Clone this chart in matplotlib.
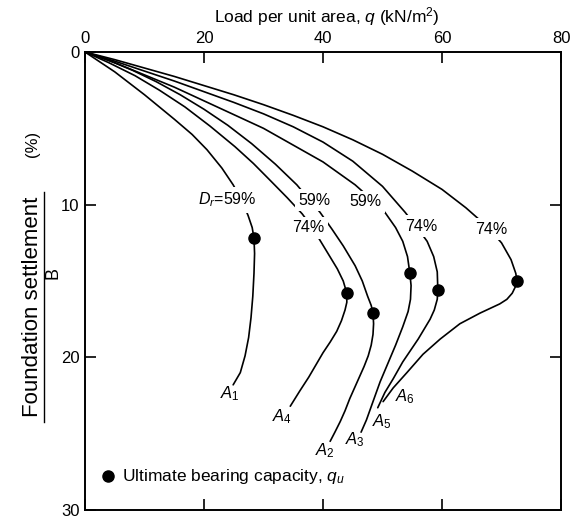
import numpy as np
import matplotlib.pyplot as plt
from matplotlib.lines import Line2D

plt.rcParams['font.family'] = ['Liberation Sans', 'DejaVu Sans']
plt.rcParams['mathtext.fontset'] = 'custom'
plt.rcParams['mathtext.rm'] = 'Liberation Sans'
plt.rcParams['mathtext.it'] = 'Liberation Sans:italic'

# load q (kN/m^2) vs settlement/B (%) for each test
q_a1 = [0, 5, 10, 15, 18, 20.5, 23, 24.9, 26.3, 27.4, 28.1, 28.4, 28.5, 28.4, 28.2, 27.9, 27.5, 26.9, 26.1, 24.9]
s_a1 = [0, 1.3, 2.8, 4.4, 5.4, 6.4, 7.6, 8.7, 9.7, 10.7, 11.5, 12.2, 13.2, 14.5, 16.0, 17.4, 18.7, 19.9, 21.0, 21.8]

q_a4 = [0, 4, 8.4, 12.5, 16.8, 21, 25.2, 28.3, 31.1, 34, 36.5, 38.2, 39.6, 41, 42.4, 43.4, 44.0,
        44.0, 43.7, 43.1, 42.3, 41.2, 40.0, 38.8, 37.6, 36.1, 34.5]
s_a4 = [0, 0.7, 1.55, 2.5, 3.6, 4.85, 6.2, 7.3, 8.4, 9.55, 10.6, 11.5, 12.4, 13.3, 14.2, 15.0, 15.8,
        16.4, 16.9, 17.6, 18.3, 19.0, 19.7, 20.5, 21.3, 22.2, 23.2]

q_a2 = [0, 4, 8, 12, 16, 20, 24, 28, 32, 35.6, 39.5, 41.5, 43.4, 45.4, 46.6, 47.5, 48.1, 48.4,
        48.5, 48.4, 48.1, 47.6, 46.9, 46.1, 45.3, 44.5, 43.7, 42.9, 42.0, 41.2]
s_a2 = [0, 0.55, 1.2, 1.95, 2.8, 3.75, 4.8, 6.0, 7.35, 8.7, 10.5, 11.6, 12.7, 14.0, 15.0, 16.0, 16.6, 17.1,
        17.8, 18.5, 19.2, 19.9, 20.6, 21.3, 22.0, 22.7, 23.5, 24.2, 24.9, 25.5]

q_a3 = [0, 5, 10, 15, 20, 25, 30, 35, 40, 45.4, 48, 50.4, 52.2, 53.4, 54.2, 54.6,
        54.8, 54.7, 54.3, 53.4, 52.2, 50.9, 49.6, 48.4, 47.3, 46.4]
s_a3 = [0, 0.7, 1.5, 2.3, 3.2, 4.1, 5.0, 6.1, 7.2, 8.7, 9.6, 10.5, 11.5, 12.4, 13.4, 14.5,
        15.3, 16.2, 17.0, 18.0, 19.2, 20.4, 21.6, 22.9, 24.1, 24.9]

q_a5 = [0, 5, 10, 15, 20, 25, 30, 35, 40, 45, 50, 53.8, 56, 57.5, 58.6, 59.2, 59.3,
        59.2, 58.7, 58.0, 56.0, 53.4, 51.8, 50.4, 49.2]
s_a5 = [0, 0.6, 1.25, 1.9, 2.6, 3.3, 4.05, 4.9, 5.9, 7.15, 8.8, 10.5, 11.6, 12.4, 13.4, 14.4, 15.6,
        16.2, 16.9, 17.5, 18.8, 20.3, 21.4, 22.3, 23.3]

q_a6 = [0, 5, 10, 15, 20, 25, 30, 35, 40, 45, 50, 55, 60, 64, 67.5, 70, 71.6, 72.4, 72.6,
        72.3, 71.8, 70.9, 69.7, 66.4, 63.0, 59.7, 56.8, 54.1, 51.8, 50.1]
s_a6 = [0, 0.5, 1.05, 1.6, 2.2, 2.8, 3.45, 4.15, 4.9, 5.75, 6.7, 7.8, 9.0, 10.2, 11.4, 12.5, 13.6, 14.5, 15.0,
        15.4, 15.8, 16.2, 16.5, 17.1, 17.8, 18.8, 19.8, 21.0, 22.0, 22.9]

# ultimate bearing capacity points (A1, A4, A2, A3, A5, A6)
qu_q = [28.4, 44.0, 48.4, 54.6, 59.3, 72.6]
qu_s = [12.2, 15.8, 17.1, 14.5, 15.6, 15.0]

# relative density labels sitting on the curves
dr_text = ['$D_r$=59%', '59%', '74%', '59%', '74%', '74%']
dr_q = [23.9, 38.5, 37.5, 47.2, 56.5, 68.2]
dr_s = [9.7, 9.7, 11.5, 9.8, 11.4, 11.6]

# test names at the curve ends
a_text = ['$A_1$', '$A_4$', '$A_2$', '$A_3$', '$A_5$', '$A_6$']
a_q = [24.4, 33.1, 40.3, 45.4, 49.9, 53.8]
a_s = [22.4, 23.9, 26.1, 25.4, 24.2, 22.6]

fig = plt.figure(figsize=(5.72, 5.2), dpi=100)
ax = fig.add_axes([0.1486, 0.0192, 0.8322, 0.8808])

for q, s in [(q_a1, s_a1), (q_a4, s_a4), (q_a2, s_a2), (q_a3, s_a3), (q_a5, s_a5), (q_a6, s_a6)]:
    ax.plot(q, s, color='black', lw=1.2, solid_joinstyle='round', solid_capstyle='round', zorder=2)

ax.plot(qu_q, qu_s, 'o', color='black', ms=8, zorder=4)

for t, q, s in zip(dr_text, dr_q, dr_s):
    ax.text(q, s, t, fontsize=11.5, ha='center', va='center', zorder=3,
            bbox=dict(facecolor='white', edgecolor='none', pad=2.5))

for t, q, s in zip(a_text, a_q, a_s):
    ax.text(q, s, t, fontsize=12, ha='center', va='center', zorder=3)

# legend drawn by hand in the lower left
ax.plot([3.9], [27.8], 'o', color='black', ms=8)
ax.text(6.2, 27.8, 'Ultimate bearing capacity, $q_u$', fontsize=12.5, ha='left', va='center')

ax.set_xlim(0, 80)
ax.set_ylim(30, 0)
ax.set_xticks([0, 20, 40, 60, 80])
ax.set_yticks([0, 10, 20, 30])
ax.xaxis.tick_top()
ax.tick_params(axis='both', which='both', direction='in', length=8, width=1.2,
               labelsize=12, top=True, bottom=True, left=True, right=True,
               labeltop=True, labelbottom=False, labelleft=True, labelright=False, pad=4)
for sp in ax.spines.values():
    sp.set_linewidth(1.4)

fig.text(0.572, 0.969, 'Load per unit area, $q$ (kN/m$^2$)', fontsize=12.5, ha='center', va='center')

# settlement / B axis title as a fraction
fig.text(0.0560, 0.4096, 'Foundation settlement', fontsize=16, rotation=90, ha='center', va='center')
fig.add_artist(Line2D([0.0769, 0.0769], [0.1885, 0.6308], color='black', lw=1.0, transform=fig.transFigure))
fig.text(0.0927, 0.475, 'B', fontsize=13, rotation=90, ha='center', va='center')
fig.text(0.0560, 0.723, '(%)', fontsize=12, rotation=90, ha='center', va='center')

fig.savefig('out.png', dpi=100)
